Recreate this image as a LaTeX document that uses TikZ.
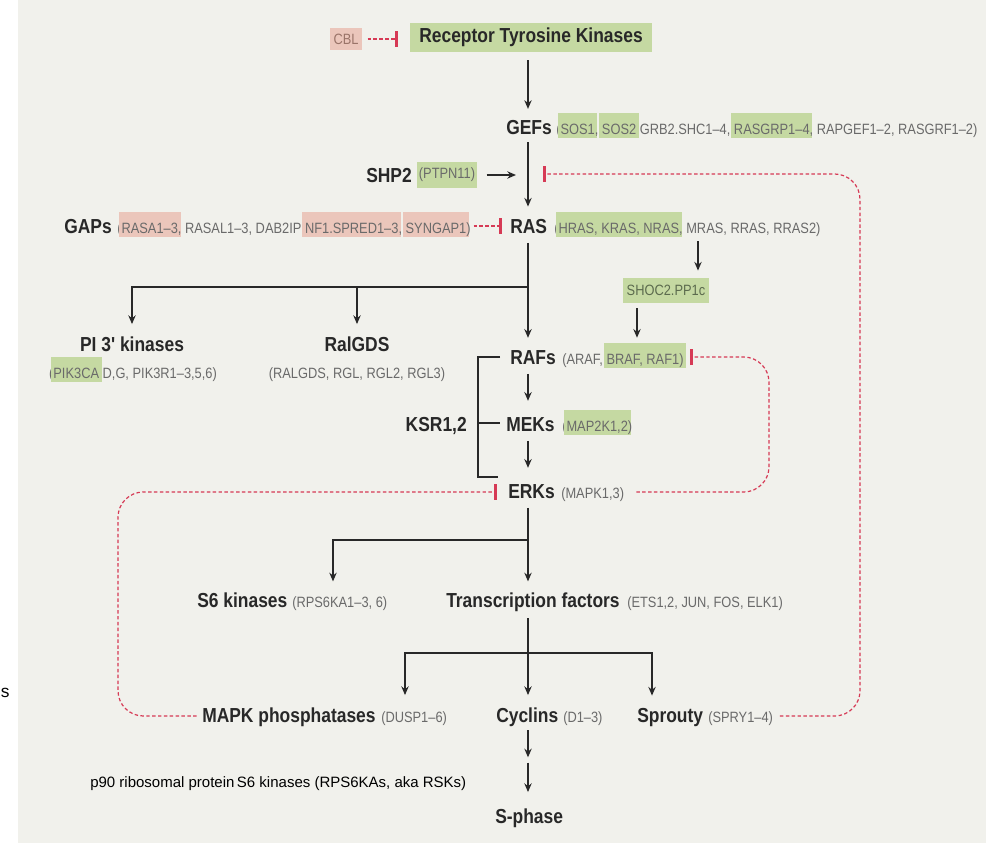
\documentclass[tikz,border=0pt]{standalone}
\usepackage{fontspec}
\setmainfont{Liberation Sans}
\newfontfamily\lblfont[FakeStretch=0.86]{Liberation Sans}
\usetikzlibrary{arrows.meta}
\definecolor{bgc}{HTML}{F1F1EC}
\definecolor{hlg}{HTML}{C5D9A2}
\definecolor{hlp}{HTML}{EBC6BB}
\definecolor{inhc}{HTML}{D63A55}
\definecolor{labc}{HTML}{282828}
\definecolor{subc}{HTML}{6A6A6A}
\definecolor{cblc}{HTML}{9A7469}
\definecolor{shocc}{HTML}{5C6B4E}
\newcommand{\hlbox}[2]{{\setlength{\fboxsep}{0pt}\kern-2pt\colorbox{#1}{\rule[-3pt]{0pt}{18.5pt}\kern2pt#2\kern2pt}\kern-2pt}}
\newcommand{\greenhl}[1]{\hlbox{hlg}{#1}}
\newcommand{\pinkhl}[1]{\hlbox{hlp}{#1}}
\tikzset{
  lbl/.style={inner sep=0pt, anchor=base west, text=labc, font=\lblfont\bfseries\fontsize{15.2}{17}\selectfont},
  sub/.style={inner sep=0pt, anchor=base west, text=subc, font=\lblfont\fontsize{11.2}{13}\selectfont},
  act/.style={draw=labc, line width=1.2pt, -{Stealth[length=6.5pt,width=5.5pt]}},
  brk/.style={draw=labc, line width=1.4pt},
  inh/.style={draw=inhc, line width=0.9pt, dash pattern=on 2.6pt off 1.8pt, -{Bar[width=12pt,line width=2pt]}},
}
\begin{document}
\begin{tikzpicture}[x=0.75pt,y=-0.75pt]
\useasboundingbox (0,0) rectangle (986,843);
\fill[bgc] (18,0) rectangle (986,843);
\coordinate (sp) at (528,0);

% ---- nodes
\node[lbl, anchor=center, fill=hlg, minimum width=182pt, minimum height=21.75pt] (rtk) at (531,37.5) {Receptor Tyrosine Kinases};
\node[sub, anchor=center, fill=hlp, text=cblc, minimum width=24pt, minimum height=16.5pt] (cbl) at (346,39) {CBL};

\node[lbl] (gefs) at (506,134) {GEFs};
\node[sub] (gefp) at (556,134) {(\greenhl{SOS1}, \greenhl{SOS2} GRB2.SHC1–4, \greenhl{RASGRP1–4}, RAPGEF1–2, RASGRF1–2)};

\node[lbl] (shp2) at (366,182) {SHP2};
\node[sub, anchor=center, fill=hlg, inner xsep=1.5pt, minimum height=19pt] (ptpn) at (447,175) {(PTPN11)};

\node[lbl] (gaps) at (64,233) {GAPs};
\node[sub] (gapp) at (117,233) {(\pinkhl{RASA1–3}, RASAL1–3, DAB2IP \pinkhl{NF1.SPRED1–3}, \pinkhl{SYNGAP1})};
\node[lbl] (ras) at (510,233) {RAS};
\node[sub] (rasp) at (554,233) {(\greenhl{HRAS, KRAS, NRAS}, MRAS, RRAS, RRAS2)};
\node[sub, anchor=center, fill=hlg, text=shocc, minimum width=65pt, minimum height=18.75pt] (shoc) at (666,290) {SHOC2.PP1c};

\node[lbl, anchor=base] (pi3k) at (132,351) {PI 3' kinases};
\node[sub, anchor=base] (pi3kp) at (133,378) {(\greenhl{PIK3CA} D,G, PIK3R1–3,5,6)};
\node[lbl, anchor=base] (ralgds) at (357,351) {RalGDS};
\node[sub, anchor=base] (ralgdsp) at (357,378) {(RALGDS, RGL, RGL2, RGL3)};

\node[lbl] (rafs) at (510,364) {RAFs};
\node[sub] (rafsp) at (562,364) {(ARAF, \greenhl{BRAF, RAF1)}};
\node[lbl, anchor=base east] (ksr) at (467,431) {KSR1,2};
\node[lbl] (meks) at (506,431) {MEKs};
\node[sub] (meksp) at (562,431) {(\greenhl{MAP2K1,2})};
\node[lbl] (erks) at (508,498) {ERKs};
\node[sub] (erksp) at (561,498) {(MAPK1,3)};

\node[lbl] (s6) at (197,607) {S6 kinases};
\node[sub] (s6p) at (292,607) {(RPS6KA1–3, 6)};
\node[lbl] (tf) at (446,607) {Transcription factors};
\node[sub] (tfp) at (627,607) {(ETS1,2, JUN, FOS, ELK1)};

\node[lbl] (mapk) at (202,722) {MAPK phosphatases};
\node[sub] (mapkp) at (381,722) {(DUSP1–6)};
\node[lbl] (cyc) at (496,722) {Cyclins};
\node[sub] (cycp) at (563,722) {(D1–3)};
\node[lbl] (spry) at (637,722) {Sprouty};
\node[sub] (spryp) at (708,722) {(SPRY1–4)};

\node[anchor=base west, inner sep=0pt, text=black, font=\fontsize{11.25}{13}\selectfont] (p90) at (90,787) {p90 ribosomal protein\,S6 kinases (RPS6KAs, aka RSKs)};
\node[lbl] (sph) at (495,823) {S-phase};
\node[anchor=base west, inner sep=0pt, text=black, font=\fontsize{13}{13}\selectfont] (strays) at (0.5,697) {s};

% ---- coordinates
\coordinate (b1) at (528,287);
\coordinate (b3) at (528,540);
\coordinate (b3l) at (333,540);
\coordinate (b4) at (528,653);
\coordinate (b4l) at (405,653);
\coordinate (b4r) at (652,653);
\coordinate (mid) at (528,760);
\coordinate (shx) at (698,241);
\coordinate (bx) at (637,0);
\coordinate (lpR) at (860,0);
\coordinate (lpM) at (769,0);
\coordinate (lpL) at (118,0);
\coordinate (r1) at (0,174);
\coordinate (r2) at (0,226);
\coordinate (r3) at (0,357);
\coordinate (r5) at (0,492);
\coordinate (r6) at (0,716);
\coordinate (cblbar) at (398,39);
\coordinate (gapbar) at (502,226);
\coordinate (rasbar) at (543,174);
\coordinate (rafbar) at (690,357);
\coordinate (erkbar) at (497,492);
\coordinate (k1) at (500,357);
\coordinate (k2) at (478,357);
\coordinate (k3) at (478,477);
\coordinate (k4) at (498,477);
\coordinate (k5) at (478,423);
\coordinate (k6) at (500,423);

% ---- activation arrows
\draw[act, shorten <=6pt, shorten >=8pt] (rtk.south -| sp) -- (gefs.north -| sp);
\draw[act, shorten <=6pt, shorten >=9pt] (gefs.south -| sp) -- (ras.north -| sp);
\draw[act, line width=1.6pt, shorten <=7pt, shorten >=9pt] (ptpn.east) -- (ptpn.east -| sp);
\draw[act, shorten <=7pt, shorten >=9pt] (ras.south -| sp) -- (rafs.north -| sp);
\draw[act, shorten >=9pt] (b1) -| (pi3k.north);
\draw[act, shorten >=9pt] (ralgds.north |- b1) -- (ralgds.north);
\draw[act, shorten >=5pt] (shx) -- (shx |- shoc.north);
\draw[act, shorten <=4pt, shorten >=4pt] (shoc.south -| bx) -- (rafsp.north -| bx);
\draw[act, shorten <=7pt, shorten >=12pt] (rafs.south -| sp) -- (meks.north -| sp);
\draw[act, shorten <=7pt, shorten >=12pt] (meks.south -| sp) -- (erks.north -| sp);
\draw[act, shorten <=7pt, shorten >=8pt] (erks.south -| sp) -- (tf.north -| sp);
\draw[act, shorten >=8pt] (b3) -- (b3l) -- (b3l |- s6.north);
\draw[act, shorten <=5pt, shorten >=9pt] (tf.south -| sp) -- (cyc.north -| sp);
\draw[act, shorten >=9pt] (b4) -- (b4l) -- (b4l |- mapk.north);
\draw[act, shorten >=9pt] (b4) -- (b4r) -- (b4r |- spry.north);
\draw[act, shorten <=3pt, shorten >=2pt] (cyc.south -| sp) -- (mid);
\draw[act, shorten <=2pt, shorten >=12pt] (mid) -- (sph.north -| sp);

% ---- KSR scaffold bracket
\draw[brk] (k1) -- (k2) -- (k3) -- (k4);
\draw[brk] (k5) -- (k6);

% ---- inhibitions
\draw[inh, shorten <=4pt] (cbl.east) -- (cblbar);
\draw[inh, shorten <=2pt] (gapp.east |- r2) -- (gapbar);
\draw[inh, rounded corners=19pt, shorten <=5pt] (spryp.east |- r6) -- (lpR |- r6) -- (lpR |- r1) -- (rasbar);
\draw[inh, rounded corners=19pt, shorten <=9pt] (erksp.east |- r5) -- (lpM |- r5) -- (lpM |- r3) -- (rafbar);
\draw[inh, rounded corners=19pt, shorten <=4pt] (mapk.west |- r6) -- (lpL |- r6) -- (lpL |- r5) -- (erkbar);
\end{tikzpicture}
\end{document}
